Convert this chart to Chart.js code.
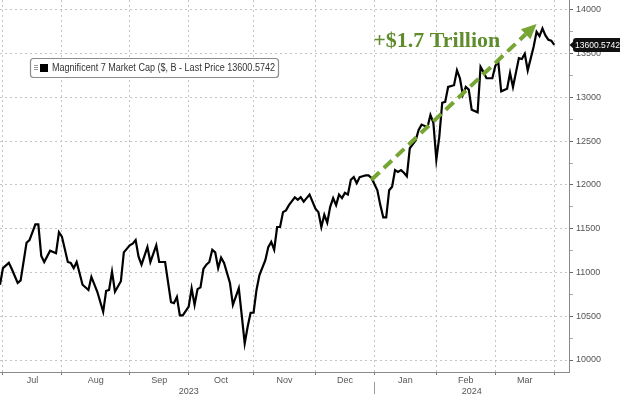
<!DOCTYPE html>
<html>
<head>
<meta charset="utf-8">
<script src="https://cdn.jsdelivr.net/npm/chart.js@4.4.1/dist/chart.umd.min.js"></script>
<style>
  html, body { margin: 0; padding: 0; background: #fff; }
  #wrap { width: 620px; height: 394px; }
</style>
</head>
<body>
<div id="wrap"><canvas id="capChart" width="620" height="394"></canvas></div>
<script>
/* Magnificent 7 market cap ($B), x = trading day counted from 3 Jul 2023 */
const tradingDay = [
  -1, 0, 2, 3, 5, 6, 8, 9, 11, 12, 13, 14, 16, 18, 19,
  20, 22, 23, 24, 25, 27, 29, 30, 32, 34, 35, 36, 37, 38, 40, 41,
  43, 44, 45, 46, 47, 49, 50, 52, 53, 55, 57, 58, 59, 60, 61,
  63, 64, 65, 66, 67, 68, 69, 70, 71, 72, 73, 74, 75, 77, 78, 80, 81, 82, 83, 84,
  85, 86, 87, 89, 90, 91, 92, 93, 94, 95, 96, 97, 99, 100, 101, 102, 103, 104, 105,
  106, 107, 108, 109, 110, 111, 112, 113, 114, 115, 116, 117, 118, 119, 120, 121, 122, 123, 124, 125,
  127, 128, 129, 130, 131, 132, 133, 134, 135, 136, 137, 138, 140, 141, 142, 144, 145, 146,
  147, 148, 149, 150, 151, 153, 154, 155, 156, 157, 158, 159, 161, 162, 163, 164, 166,
  167, 168, 169, 171, 172, 173, 175, 176, 177, 178, 180, 181, 182, 183, 184, 185, 186, 187
];
const marketCap = [
  10860, 11050, 11110, 11040, 10880, 10910, 11340, 11370, 11550, 11550, 11190, 11120, 11250, 11220, 11460,
  11410, 11120, 11110, 11050, 11120, 10860, 10800, 10950, 10780, 10550, 10790, 10800, 11010, 10780, 10900, 11230,
  11310, 11330, 11370, 11180, 11090, 11290, 11120, 11310, 11120, 11120, 10660, 10650, 10720, 10510, 10510,
  10610, 10820, 10630, 10810, 10830, 11040, 11090, 11120, 11260, 11230, 11050, 11170, 11110, 10880, 10630, 10820, 10510, 10190, 10380, 10540,
  10540, 10800, 10970, 11140, 11290, 11350, 11260, 11520, 11520, 11690, 11710, 11770, 11860, 11830, 11860, 11810, 11850, 11890, 11810,
  11730, 11690, 11520, 11660, 11570, 11750, 11850, 11770, 11890, 11850, 11910, 11890, 12060, 12090, 12020, 12090, 12100, 12110, 12110, 12080,
  11940, 11770, 11630, 11630, 11940, 11980, 12170, 12150, 12170, 12140, 12100, 12420, 12510, 12630, 12690, 12660, 12800, 12710,
  12290, 12550, 12940, 12950, 13120, 13140, 13310, 13220, 13030, 13120, 13090, 12860, 12830, 13350, 13290, 13220, 13220,
  13360, 13410, 13070, 13100, 13280, 13120, 13450, 13440, 13500, 13310, 13580, 13750, 13700, 13790, 13710, 13660, 13650, 13600.5742
];

const monthStarts = [0, 20, 43, 63, 85, 106, 126, 147, 167, 187];
const monthNames = ["Jul", "Aug", "Sep", "Oct", "Nov", "Dec", "Jan", "Feb", "Mar"];
const yearNames = ["2023", "2024"];
const yearAt = [63, 159];
const yTickValues = [10000, 10250, 10500, 10750, 11000, 11250, 11500, 11750, 12000,
  12250, 12500, 12750, 13000, 13250, 13500, 13750, 14000];

const lastPrice = 13600.5742;
const legendText = "Magnificent 7 Market Cap ($, B - Last Price 13600.5742";
const gainText = "+$1.7 Trillion";
const gainAt = [125.6, 13580];
const arrowFrom = [125, 12060];
const arrowTo = [181, 13840];

const axisFont = { family: "Liberation Sans", size: 9 };
const greenArrow = "#76a534";
const greenText = "#5f8d2e";

function roundRect(ctx, x, y, w, h, r) {
  ctx.beginPath();
  ctx.moveTo(x + r, y);
  ctx.lineTo(x + w - r, y);
  ctx.quadraticCurveTo(x + w, y, x + w, y + r);
  ctx.lineTo(x + w, y + h - r);
  ctx.quadraticCurveTo(x + w, y + h, x + w - r, y + h);
  ctx.lineTo(x + r, y + h);
  ctx.quadraticCurveTo(x, y + h, x, y + h - r);
  ctx.lineTo(x, y + r);
  ctx.quadraticCurveTo(x, y, x + r, y);
  ctx.closePath();
}

const decor = {
  id: "decor",
  afterDatasetsDraw(chart) {
    const { ctx, chartArea, scales: { x, y } } = chart;
    ctx.save();

    // dashed green arrow
    const x0 = x.getPixelForValue(arrowFrom[0]), y0 = y.getPixelForValue(arrowFrom[1]);
    const x1 = x.getPixelForValue(arrowTo[0]), y1 = y.getPixelForValue(arrowTo[1]);
    const ang = Math.atan2(y1 - y0, x1 - x0);
    const head = 15;
    ctx.strokeStyle = greenArrow;
    ctx.lineWidth = 4;
    ctx.setLineDash([11, 6]);
    ctx.beginPath();
    ctx.moveTo(x0, y0);
    ctx.lineTo(x1 - head * Math.cos(ang), y1 - head * Math.sin(ang));
    ctx.stroke();
    ctx.setLineDash([]);
    ctx.fillStyle = greenArrow;
    ctx.beginPath();
    ctx.moveTo(x1, y1);
    ctx.lineTo(x1 - head * Math.cos(ang) + 7 * Math.sin(ang), y1 - head * Math.sin(ang) - 7 * Math.cos(ang));
    ctx.lineTo(x1 - head * Math.cos(ang) - 7 * Math.sin(ang), y1 - head * Math.sin(ang) + 7 * Math.cos(ang));
    ctx.closePath();
    ctx.fill();

    // annotation text
    ctx.fillStyle = greenText;
    ctx.font = "bold 22px 'Liberation Serif'";
    ctx.textAlign = "left";
    ctx.textBaseline = "alphabetic";
    ctx.fillText(gainText, x.getPixelForValue(gainAt[0]), y.getPixelForValue(gainAt[1]), 128);

    // legend box
    roundRect(ctx, 30.5, 58.5, 248, 19, 3);
    ctx.fillStyle = "#fff";
    ctx.fill();
    ctx.strokeStyle = "#8c8c8c";
    ctx.lineWidth = 1.2;
    ctx.stroke();
    ctx.strokeStyle = "#9a9a9a";
    ctx.lineWidth = 1;
    for (let i = 0; i < 3; i++) {
      ctx.beginPath();
      ctx.moveTo(34, 65.5 + i * 2);
      ctx.lineTo(38, 65.5 + i * 2);
      ctx.stroke();
    }
    ctx.fillStyle = "#000";
    ctx.fillRect(40, 64, 8, 8);
    ctx.fillStyle = "#333";
    ctx.font = "10px 'Liberation Sans'";
    ctx.textBaseline = "middle";
    ctx.fillText(legendText, 52, 68.5, 223);

    // last price tag
    const py = y.getPixelForValue(lastPrice);
    const tx = chartArea.right + 4;
    ctx.fillStyle = "#111";
    roundRect(ctx, tx, py - 7, 620 - tx + 3, 14, 3);
    ctx.fill();
    ctx.beginPath();
    ctx.moveTo(chartArea.right + 0.5, py);
    ctx.lineTo(tx + 2, py - 5);
    ctx.lineTo(tx + 2, py + 5);
    ctx.closePath();
    ctx.fill();
    ctx.fillStyle = "#fff";
    ctx.font = "8.5px 'Liberation Sans'";
    ctx.fillText(lastPrice.toFixed(4), tx + 2, py + 0.5, 45);

    // year separator
    const sx = Math.round(x.getPixelForValue(monthStarts[6])) + 0.5;
    ctx.strokeStyle = "#9a9a9a";
    ctx.beginPath();
    ctx.moveTo(sx, chartArea.bottom + 10);
    ctx.lineTo(sx, 394);
    ctx.stroke();

    ctx.restore();
  }
};

new Chart(document.getElementById("capChart"), {
  type: "line",
  data: {
    datasets: [{
      data: tradingDay.map((d, i) => ({ x: d, y: marketCap[i] })),
      borderColor: "#000",
      borderWidth: 2.2,
      pointRadius: 0,
      tension: 0,
      fill: false
    }]
  },
  options: {
    responsive: false,
    animation: false,
    devicePixelRatio: 1,
    layout: { padding: 0 },
    plugins: {
      legend: { display: false },
      tooltip: { enabled: false }
    },
    scales: {
      x: {
        type: "linear",
        min: -1,
        max: 192,
        afterFit: s => { s.height = 22; s.paddingLeft = 0; s.paddingRight = 0; },
        afterBuildTicks: s => {
          const t = monthStarts.map(v => ({ value: v, kind: "edge" }));
          monthNames.forEach((m, i) => t.push({ value: (monthStarts[i] + monthStarts[i + 1]) / 2, kind: "month", name: m }));
          t.push({ value: yearAt[1] + 0.01, kind: "year", name: yearNames[1] });
          t.sort((a, b) => a.value - b.value);
          s.ticks = t;
        },
        ticks: {
          autoSkip: false,
          maxRotation: 0,
          padding: 0,
          color: "#555",
          font: axisFont,
          callback: (v, i, ticks) => {
            const t = ticks[i];
            if (t.kind === "month") return t.name;
            if (t.kind === "year") return ["", t.name];
            if (v === yearAt[0]) return ["", yearNames[0]];
            return "";
          }
        },
        grid: {
          color: c => (c.tick && c.tick.kind === "edge" ? "#c4c4c4" : "rgba(0,0,0,0)"),
          tickColor: c => (c.tick && c.tick.kind === "edge" ? "#777" : "rgba(0,0,0,0)"),
          tickLength: 3,
          tickBorderDash: []
        },
        border: { color: "#8a8a8a", width: 1, dash: [2, 3] }
      },
      y: {
        position: "right",
        min: 9863,
        max: 14114,
        afterFit: s => { s.width = 51; s.paddingTop = 0; s.paddingBottom = 0; },
        afterBuildTicks: s => { s.ticks = yTickValues.map(v => ({ value: v })); },
        ticks: {
          padding: 3,
          color: "#555",
          font: axisFont,
          callback: v => (v % 500 === 0 ? String(v) : "")
        },
        grid: {
          color: c => (c.tick && c.tick.value % 500 === 0 ? "#c4c4c4" : "rgba(0,0,0,0)"),
          tickColor: c => (c.tick && c.tick.value % 500 === 0 ? "#666" : "#aaa"),
          tickLength: 4,
          tickBorderDash: []
        },
        border: { color: "#8a8a8a", width: 1, dash: [2, 3] }
      }
    }
  },
  plugins: [decor]
});
</script>
</body>
</html>
